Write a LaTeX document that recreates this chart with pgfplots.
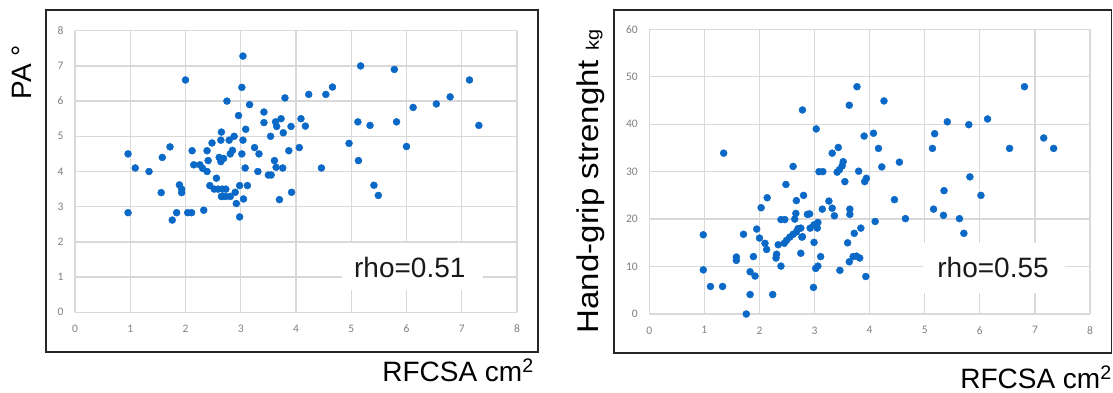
\documentclass[border=0pt]{standalone}
\usepackage{pgfplots}
\pgfplotsset{compat=1.18}
\usepackage{fontspec}
\setmainfont{Liberation Sans}
\newfontfamily\carlito{Carlito}
\definecolor{dotblue}{HTML}{0A68C6}
\definecolor{gridgray}{HTML}{D9D9D9}
\definecolor{ticktext}{HTML}{7F7F7F}
\pgfplotsset{
  excelstyle/.style={
    scale only axis,
    anchor=south west,
    xmin=0, xmax=8,
    xtick={0,1,...,8},
    axis line style={draw=none},
    major tick length=0pt,
    grid=major,
    grid style={gridgray, line width=1.3pt},
    tick label style={font=\carlito\fontsize{11.5}{13}\selectfont, text=ticktext},
    /pgf/number format/assume math mode=true,
    xticklabel style={yshift=-9pt},
    yticklabel style={xshift=-8pt},
    clip=false,
  },
  dots/.style={only marks, mark=*, mark size=3.5pt, color=dotblue, mark options={draw=dotblue, fill=dotblue}},
}
\begin{document}
\begin{tikzpicture}[x=1pt,y=1pt]
\path[use as bounding box] (0,0) rectangle (1113,392);
% frames
\draw[line width=1.6pt, black!85] (46,40) rectangle (538,382);
\draw[line width=1.6pt, black!85] (614,39) rectangle (1111.5,382);

% ---------- left panel ----------
\begin{axis}[excelstyle,
  at={(75pt,79.7pt)}, width=442pt, height=281.6pt,
  ymin=0, ymax=8, ytick={0,1,...,8}]
\fill[white] (axis cs:4.83,0.63) rectangle (axis cs:7.38,1.97);
\addplot[dots] coordinates {
(0.96,4.5) (1.09,4.1) (1.34,4.0) (0.96,2.83) (1.58,4.4) (1.72,4.7) (1.56,3.4)
(1.89,3.62) (1.93,3.5) (1.93,3.4) (1.84,2.83) (1.76,2.62) (2.0,6.6) (2.04,2.83)
(2.11,2.83) (2.33,2.9) (2.12,4.59) (2.39,4.59) (2.15,4.19) (2.26,4.19) (2.31,4.09)
(2.39,4.0) (2.41,4.31) (2.48,4.81) (2.56,3.81) (2.44,3.6) (2.52,3.5) (2.59,3.5)
(2.67,3.5) (2.73,3.5) (2.65,3.29) (2.73,3.29) (2.81,3.29) (2.61,4.4) (2.64,4.28)
(2.69,4.37) (2.65,5.12) (2.64,4.89) (2.79,4.89) (2.81,4.5) (2.75,6.0) (2.88,5.0)
(2.96,5.59) (3.04,7.28) (3.02,6.39) (3.16,5.9) (3.04,4.89) (3.09,5.2) (3.02,4.5)
(3.08,4.1) (2.98,3.6) (3.12,3.6) (2.90,3.41) (3.05,3.22) (2.92,3.09) (2.98,2.71)
(3.25,4.68) (3.33,4.5) (3.31,4.0) (3.42,5.69) (3.42,5.39) (3.54,5.0) (3.50,3.9)
(3.55,3.9) (3.61,4.31) (3.64,4.12) (3.63,5.41) (3.73,5.5) (3.65,5.28) (3.77,5.1)
(3.76,4.10) (3.70,3.2) (3.80,6.09) (3.87,4.59) (3.91,5.28) (3.92,3.41) (4.06,4.68)
(4.09,5.5) (4.17,5.29) (4.23,6.19) (4.46,4.10) (4.54,6.19) (4.66,6.4) (4.96,4.8)
(5.17,7.0) (5.13,4.31) (5.12,5.41) (5.34,5.31) (5.41,3.61) (5.49,3.32) (5.78,6.9)
(5.82,5.41) (6.0,4.71) (6.12,5.82) (6.54,5.92) (6.79,6.12) (7.14,6.6) (7.31,5.31)
(2.66,3.29) (2.85,4.6)
};
\node[text=black!90, font=\fontsize{28}{32}\selectfont] at (axis cs:6.06,1.26) {rho=0.51};
\end{axis}

% ---------- right panel ----------
\begin{axis}[excelstyle,
  at={(649.3pt,78pt)}, width=440.7pt, height=284.7pt,
  ymin=0, ymax=60, ytick={0,10,...,60}]
\fill[white] (axis cs:4.97,4.4) rectangle (axis cs:7.54,15.0);
\addplot[dots] coordinates {
(0.98,16.7) (0.98,9.3) (1.11,5.8) (1.33,5.8) (1.35,33.9) (1.58,12.0) (1.58,11.3)
(1.71,16.8) (1.76,0.0) (1.83,4.1) (1.83,8.9) (1.92,8.0) (1.89,12.1) (1.95,17.9)
(2.0,16.0) (2.03,22.4) (2.10,14.9) (2.13,13.6) (2.14,24.5) (2.24,4.1) (2.30,11.8)
(2.31,12.6) (2.34,14.6) (2.39,10.1) (2.39,19.9) (2.46,19.9) (2.45,14.9) (2.48,27.3)
(2.49,15.5) (2.55,16.2) (2.61,16.8) (2.61,31.1) (2.64,20.0) (2.66,21.2) (2.67,17.3)
(2.67,23.9) (2.70,18.0) (2.75,12.8) (2.77,16.2) (2.78,43.0) (2.80,25.0) (2.87,21.0)
(2.75,18.1) (2.78,16.3) (2.91,21.1) (2.92,18.1) (2.99,18.8) (2.98,5.6) (2.99,15.1)
(3.02,9.6) (3.06,10.1) (3.03,39.0) (3.05,18.1) (3.06,19.3) (3.08,30.0) (3.15,30.0)
(3.11,12.1) (3.14,22.1) (3.26,23.8) (3.32,22.3) (3.32,33.9) (3.36,20.7) (3.41,29.9)
(3.43,35.1) (3.45,30.4) (3.46,9.2) (3.50,31.2) (3.52,32.1) (3.55,27.9) (3.60,15.0)
(3.63,44.0) (3.63,11.0) (3.64,22.1) (3.64,21.0) (3.70,12.1) (3.72,17.0) (3.76,12.2)
(3.77,47.9) (3.80,30.1) (3.82,11.8) (3.84,18.1) (3.91,27.9) (3.94,28.6) (3.90,37.5)
(3.93,7.9) (4.07,38.1) (4.10,19.5) (4.16,34.9) (4.22,31.0) (4.26,44.9) (4.45,24.1)
(4.54,32.0) (4.65,20.1) (5.16,22.1) (5.14,34.9) (5.18,38.0) (5.34,20.8) (5.35,26.0)
(5.41,40.5) (5.63,20.1) (5.71,17.0) (5.80,39.9) (5.82,28.9) (6.02,25.0) (6.14,41.1)
(6.54,34.9) (6.81,47.9) (7.16,37.1) (7.34,34.9)
};
\node[text=black!90, font=\fontsize{28}{32}\selectfont] at (axis cs:6.24,9.7) {rho=0.55};
\end{axis}

% axis titles
\node[font=\fontsize{28}{32}\selectfont] at (458,22) {RFCSA cm\textsuperscript{2}};
\node[font=\fontsize{28}{32}\selectfont] at (1036,15) {RFCSA cm\textsuperscript{2}};
\node[rotate=90, font=\fontsize{28}{32}\selectfont] at (21.5,320) {PA °};
\node[rotate=90] at (591,210.5) {\scalebox{1.1}[1]{\fontsize{30}{34}\selectfont Hand-grip strenght {\fontsize{18}{20}\selectfont kg}}};
\end{tikzpicture}
\end{document}
